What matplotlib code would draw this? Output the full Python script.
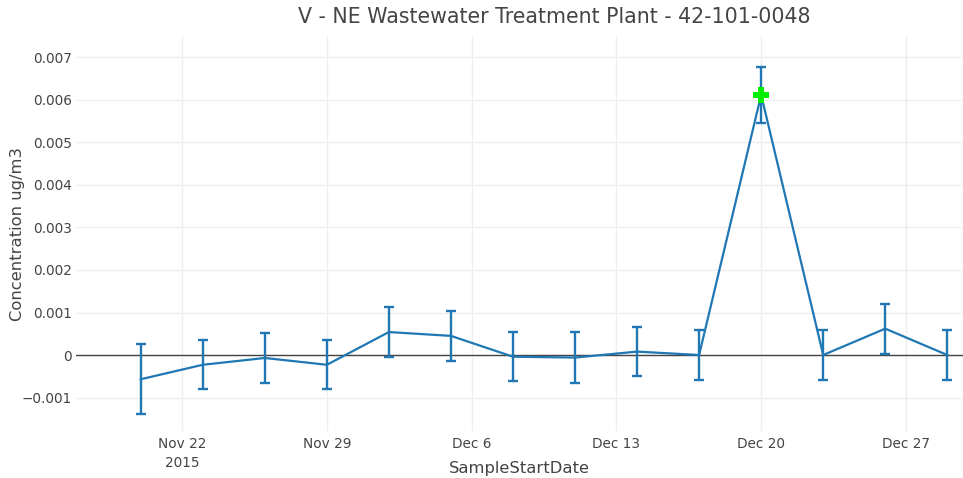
import matplotlib
matplotlib.use("Agg")
import matplotlib.pyplot as plt
import matplotlib.dates as mdates
from matplotlib.ticker import FuncFormatter, FixedLocator
import pandas as pd

# Sample data (ug/m3) with measurement uncertainty
sample_dates = ["2015-11-20", "2015-11-23", "2015-11-26", "2015-11-29", "2015-12-02",
                "2015-12-05", "2015-12-08", "2015-12-11", "2015-12-14", "2015-12-17",
                "2015-12-20", "2015-12-23", "2015-12-26", "2015-12-29"]
concentration = [-0.00057, -0.00023, -0.00007, -0.00023, 0.00054,
                 0.00045, -0.00004, -0.00006, 0.00008, 0.0,
                 0.00612, 0.0, 0.00062, 0.0]
uncertainty = [0.00082, 0.00058, 0.00058, 0.00058, 0.00059,
               0.00058, 0.00058, 0.00059, 0.00058, 0.00058,
               0.00066, 0.00058, 0.00059, 0.00058]
flagged_date = ["2015-12-20"]
flagged_value = [0.00612]

y_ticks = [-0.001, 0, 0.001, 0.002, 0.003, 0.004, 0.005, 0.006, 0.007]
x_tick_dates = ["2015-11-22", "2015-11-29", "2015-12-06", "2015-12-13", "2015-12-20", "2015-12-27"]
x_tick_labels = ["Nov 22\n2015", "Nov 29", "Dec 6", "Dec 13", "Dec 20", "Dec 27"]

title = "V - NE Wastewater Treatment Plant - 42-101-0048"
x_title = "SampleStartDate"
y_title = "Concentration ug/m3"

plt.rcParams["font.family"] = ["DejaVu Sans"]
text_color = "#444444"
line_color = "#1f77b4"

W, H = 963, 478
fig = plt.figure(figsize=(W / 100, H / 100), dpi=100)
left, right, top, bottom = 76, 963, 37, 431
ax = fig.add_axes([left / W, 1 - bottom / H, (right - left) / W, (bottom - top) / H])

dates = pd.to_datetime(sample_dates)
ax.errorbar(dates, concentration, yerr=uncertainty, color=line_color, lw=1.6,
            elinewidth=1.7, capsize=3.3, capthick=1.7, zorder=3)
ax.plot(pd.to_datetime(flagged_date), flagged_value, marker="P", color="#00ee00",
        markersize=11, markeredgewidth=0, linestyle="none", zorder=4)

ax.axhline(0, color="#444444", lw=1.0, zorder=2)

x0 = pd.Timestamp("2015-11-20") - pd.Timedelta(days=3.13)
x1 = pd.Timestamp("2015-12-29") + pd.Timedelta(days=0.76)
ax.set_xlim(x0, x1)
ax.set_ylim(-0.001788, 0.007482)

ax.yaxis.set_major_locator(FixedLocator(y_ticks))
ax.yaxis.set_major_formatter(FuncFormatter(
    lambda v, p: "0" if abs(v) < 1e-12 else f"{v:.3f}".replace("-", "\u2212")))
ax.set_xticks(mdates.date2num(pd.to_datetime(x_tick_dates)))
ax.set_xticklabels(x_tick_labels, linespacing=1.45)

ax.grid(True, color="#eeeeee", lw=1.0, zorder=0)
ax.set_axisbelow(True)
for s in ax.spines.values():
    s.set_visible(False)
ax.tick_params(length=0, colors=text_color, labelsize=9.8)
ax.tick_params(axis="x", pad=4)
ax.tick_params(axis="y", pad=3)

fig.text((left + right) / 2 / W, 1 - 468 / H, x_title, ha="center", va="center",
         color=text_color, fontsize=11.8)
fig.text(18 / W, 1 - (top + bottom) / 2 / H, y_title, ha="center", va="center",
         rotation=90, color=text_color, fontsize=11.8)
fig.text(554 / W, 1 - 17 / H, title, ha="center", va="center", color=text_color, fontsize=14.8)

fig.savefig("out.png", dpi=100)
